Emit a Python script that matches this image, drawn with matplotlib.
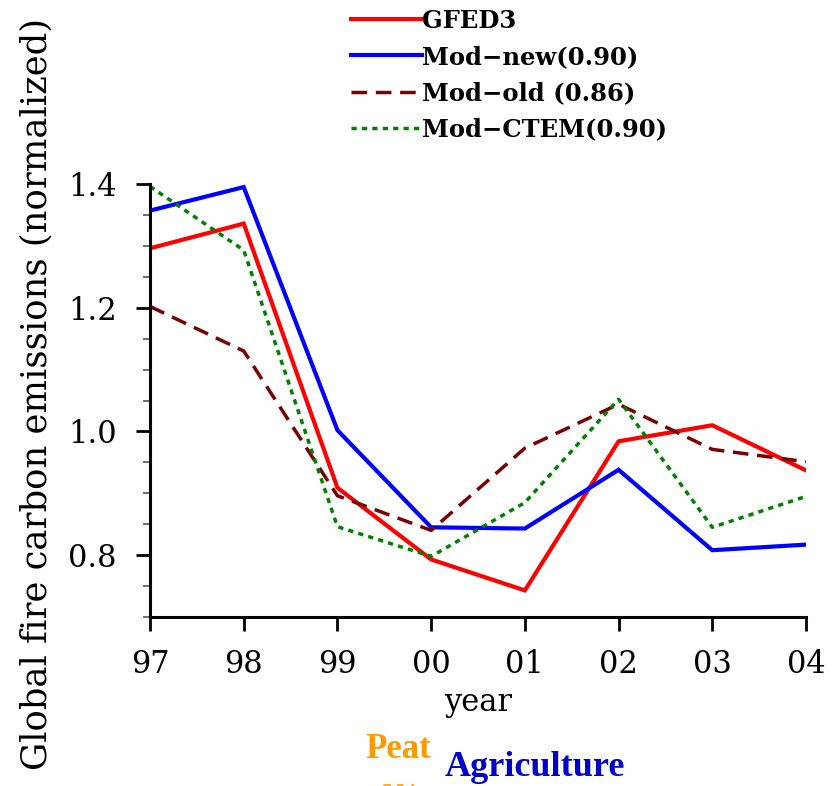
import matplotlib
matplotlib.use("Agg")
import matplotlib.pyplot as plt
from matplotlib.ticker import MultipleLocator

years = ["97", "98", "99", "00", "01", "02", "03", "04"]
gfed3 = [1.296, 1.336, 0.909, 0.793, 0.743, 0.984, 1.010, 0.937]
mod_new = [1.357, 1.395, 1.002, 0.845, 0.843, 0.938, 0.808, 0.817]
mod_old = [1.202, 1.130, 0.896, 0.840, 0.973, 1.044, 0.971, 0.951]
mod_ctem = [1.396, 1.293, 0.846, 0.798, 0.885, 1.052, 0.845, 0.895]
labels = ["GFED3", "Mod\u2212new(0.90)", "Mod\u2212old (0.86)", "Mod\u2212CTEM(0.90)"]

fig = plt.figure(figsize=(8.37, 7.86), dpi=100)
ax = fig.add_axes([150/837, 1-617/786, (806-150)/837, (617-184)/786])
x = list(range(len(years)))
l1, = ax.plot(x, gfed3, color="#ff0000", lw=3.0, solid_joinstyle="miter")
l2, = ax.plot(x, mod_new, color="#0000ff", lw=3.0, solid_joinstyle="miter")
l3, = ax.plot(x, mod_old, color="#7a0000", lw=2.5, dashes=(4.5, 2.5))
l4, = ax.plot(x, mod_ctem, color="#008000", lw=2.5, dashes=(1.5, 1.5))

ax.set_xlim(0, len(years) - 1)
ax.set_ylim(0.7, 1.4)
ax.set_xticks(x)
ax.set_xticklabels(years, family="DejaVu Serif", fontsize=22)
ax.set_yticks([0.8, 1.0, 1.2, 1.4])
ax.set_yticklabels(["0.8", "1.0", "1.2", "1.4"], family="DejaVu Serif", fontsize=22)
ax.yaxis.set_minor_locator(MultipleLocator(0.05))
for s in ["top", "right"]:
    ax.spines[s].set_visible(False)
for s in ["left", "bottom"]:
    ax.spines[s].set_linewidth(2.2)
ax.tick_params(axis="both", which="major", direction="out", length=10, width=2)
ax.tick_params(axis="x", which="major", pad=13)
ax.tick_params(axis="y", which="major", pad=14)
ax.tick_params(axis="y", which="minor", direction="out", length=5, width=1.2, color="#555555")
ax.set_xlabel("year", family="DejaVu Serif", fontsize=22, labelpad=4)
ax.xaxis.set_label_coords(0.5, -(703-617)/433, transform=ax.transAxes)
ax.xaxis.label.set_va("center")
ax.set_ylabel("Global fire carbon emissions (normalized)", family="DejaVu Serif",
              fontsize=25.5)
ax.yaxis.set_label_coords((36-150)/656, (617-394)/433)
ax.yaxis.label.set_va("center")

fig.legend([l1, l2, l3, l4], labels, loc="upper left", bbox_to_anchor=(341/837, 1.0 + 1/786),
           frameon=False, handlelength=2.95, handletextpad=0.0, labelspacing=0.5,
           borderaxespad=0, prop={"family": "DejaVu Serif", "weight": "bold", "size": 17.5})

fig.text(398/837, 1-750/786, "Peat", color="#ff9900", family="Liberation Serif",
         weight="bold", fontsize=25, ha="center", va="center")
fig.text(535/837, 1-768/786, "Agriculture", color="#0000cc", family="Liberation Serif",
         weight="bold", fontsize=26, ha="center", va="center")
fig.text(400/837, 1-796/786, "6%", color="#ff9900", family="Liberation Serif",
         weight="bold", fontsize=20, ha="center", va="center")

fig.savefig("out.png", dpi=100)
